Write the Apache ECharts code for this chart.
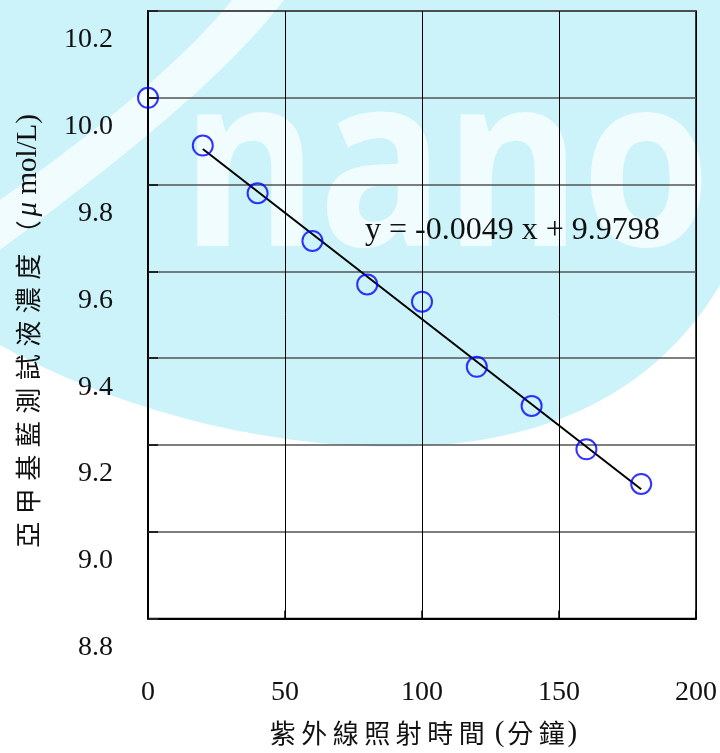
<!DOCTYPE html>
<html>
<head>
<meta charset="utf-8">
<script src="https://cdn.jsdelivr.net/npm/echarts@6/dist/echarts.min.js"></script>
<style>
html,body{margin:0;padding:0;background:#fff;}
#chart{width:720px;height:753px;}
</style>
</head>
<body>
<div id="chart"></div>
<script>
// ---- data ----
const xValues = [0, 20, 40, 60, 80, 100, 120, 140, 160, 180];
const yValues = [10.00, 9.89, 9.78, 9.67, 9.57, 9.53, 9.38, 9.29, 9.19, 9.11];
const trendX = [20, 180];
const slope = -0.0049;
const intercept = 9.9798;
const xTicks = { min: 0, max: 200, interval: 50 };
const yTicks = { min: 8.8, max: 10.2, interval: 0.2 };
const xTitle = '紫外線照射時間 (分鐘)';
const yTitle = '亞甲基藍測試液濃度（μ mol/L)';
const watermark = 'nano';

const scatterData = xValues.map((x, i) => [x, yValues[i]]);
const trendData = trendX.map(x => [x, intercept + slope * x]);
const eqText = 'y = ' + slope.toFixed(4) + ' x + ' + intercept.toFixed(4);

function richTitle(str, cjkStyle) {
  const isCJK = ch => /[\u3000-\u9fff\uff00-\uffef]/.test(ch);
  let out = '', run = '';
  const flush = () => { if (run) { out += '{l|' + run + '}'; run = ''; } };
  for (const ch of str) {
    if (isCJK(ch)) { flush(); out += '{' + cjkStyle + '|' + ch + '}'; }
    else if (ch === 'μ') { flush(); out += '{mu|' + ch + '}'; }
    else run += ch;
  }
  flush();
  return out;
}

// decoration helper: sample cubic bezier segments into polygon points
function bez(p0, c1, c2, p1, n) {
  const pts = [];
  for (let i = 1; i <= n; i++) {
    const t = i / n, u = 1 - t;
    pts.push([
      u*u*u*p0[0] + 3*u*u*t*c1[0] + 3*u*t*t*c2[0] + t*t*t*p1[0],
      u*u*u*p0[1] + 3*u*u*t*c1[1] + 3*u*t*t*c2[1] + t*t*t*p1[1]
    ]);
  }
  return pts;
}
const blobPts = [[0, 0], [720, 0], [720, 285]]
  .concat(bez([720, 285], [660, 385], [560, 440], [420, 446], 30))
  .concat(bez([420, 446], [280, 452], [120, 412], [0, 345], 30));
const swooshPts = [[232, 0], [284, 0]]
  .concat(bez([284, 0], [222, 80], [120, 160], [0, 250], 30))
  .concat([[0, 200]])
  .concat(bez([0, 200], [100, 128], [180, 64], [232, 0], 30));

const serif = '"Liberation Serif", "Times New Roman", serif';
const cjk = '"Noto Sans CJK TC", "Noto Sans CJK SC", sans-serif';
const richStyles = {
  cx: { fontFamily: cjk, fontSize: 26, width: 31.5, align: 'center', color: '#111', lineHeight: 30 },
  cy: { fontFamily: cjk, fontSize: 26, width: 33.5, align: 'center', color: '#111', lineHeight: 30 },
  l: { fontFamily: serif, fontSize: 29, color: '#111', lineHeight: 30 },
  mu: { fontFamily: serif, fontSize: 29, fontStyle: 'italic', color: '#111', lineHeight: 30 }
};

const chart = echarts.init(document.getElementById('chart'), null, { renderer: 'canvas' });

const option = {
  backgroundColor: '#ffffff',
  animation: false,
  graphic: [
    { type: 'polygon', z: -10, silent: true, shape: { points: blobPts }, style: { fill: '#ccf3fa' } },
    { type: 'polygon', z: -9, silent: true, shape: { points: swooshPts }, style: { fill: 'rgba(255,255,255,0.7)' } },
    { type: 'text', z: -8, silent: true, x: 181, y: 178, scaleX: 0.87,
      style: { text: watermark, font: 'bold 240px "Open Sans", sans-serif', fill: 'rgba(255,255,255,0.7)',
               align: 'left', verticalAlign: 'middle', textAlign: 'left', textVerticalAlign: 'middle' } },
    { type: 'text', z: 50, silent: true, x: 365, y: 231,
      style: { text: eqText, font: '32px ' + serif, fill: '#111',
               align: 'left', verticalAlign: 'middle', textAlign: 'left', textVerticalAlign: 'middle' } }
  ],
  grid: { left: 148, right: 22, top: 11, bottom: 130, show: true, borderColor: '#000', borderWidth: 1.5, backgroundColor: 'transparent' },
  xAxis: {
    type: 'value', min: xTicks.min, max: xTicks.max, interval: xTicks.interval,
    axisLine: { show: true, onZero: false, lineStyle: { color: '#000', width: 2 } },
    axisTick: { show: true, inside: true, length: 8, lineStyle: { color: '#000', width: 1.5 } },
    axisLabel: { margin: 60, fontFamily: serif, fontSize: 28, color: '#111', showMaxLabel: true, showMinLabel: true },
    splitLine: { show: true, lineStyle: { color: '#000', width: 1 } },
    name: richTitle(xTitle, 'cx'), nameLocation: 'middle', nameGap: 100,
    nameTextStyle: { rich: richStyles }
  },
  yAxis: {
    type: 'value', min: yTicks.min, max: yTicks.max, interval: yTicks.interval,
    axisLine: { show: true, onZero: false, lineStyle: { color: '#000', width: 2 } },
    axisTick: { show: true, inside: true, length: 10, lineStyle: { color: '#222', width: 2 } },
    axisLabel: { margin: 35, verticalAlign: 'top', lineHeight: 58, fontFamily: serif, fontSize: 28, color: '#111',
                 formatter: v => v.toFixed(1), showMaxLabel: true, showMinLabel: true },
    splitLine: { show: true, lineStyle: { color: '#555', width: 1.5 } },
    name: richTitle(yTitle, 'cy'), nameLocation: 'middle', nameGap: 105, nameRotate: 90,
    nameTextStyle: { rich: richStyles, padding: [0, 36, 0, 0] }
  },
  series: [
    { type: 'line', data: trendData, showSymbol: false, symbol: 'none', z: 3,
      lineStyle: { color: '#000', width: 2 }, silent: true },
    { type: 'scatter', data: scatterData, symbol: 'circle', symbolSize: 20, clip: false, z: 4,
      itemStyle: { color: 'rgba(0,0,0,0)', borderColor: '#0000ff', borderWidth: 2 } }
  ]
};
chart.setOption(option);
</script>
</body>
</html>
